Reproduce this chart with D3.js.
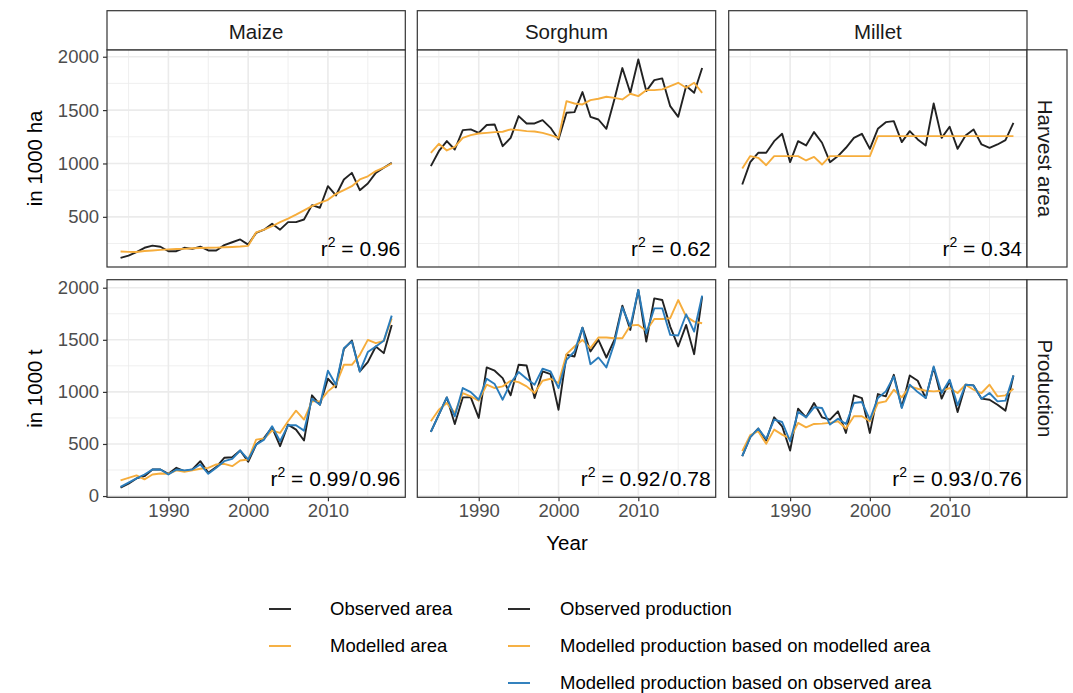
<!DOCTYPE html>
<html>
<head>
<meta charset="utf-8">
<script src="https://cdn.jsdelivr.net/npm/d3@7"></script>
<style>
  body { margin: 0; background: #fff; }
  svg { display: block; font-family: "Liberation Sans", Arial, sans-serif; }
</style>
</head>
<body>
<svg id="chart" width="1073" height="693"></svg>
<script>
const years = [1984, 1985, 1986, 1987, 1988, 1989, 1990, 1991, 1992, 1993, 1994, 1995,
  1996, 1997, 1998, 1999, 2000, 2001, 2002, 2003, 2004, 2005, 2006, 2007, 2008, 2009,
  2010, 2011, 2012, 2013, 2014, 2015, 2016, 2017, 2018];

const crops = ['Maize', 'Sorghum', 'Millet'];
const rowLabels = ['Harvest area', 'Production'];
const yTitles = ['in 1000 ha', 'in 1000 t'];
const xTicks = [1990, 2000, 2010];
const xMinor = [1985, 1995, 2005, 2015];
const yTicks = [0, 500, 1000, 1500, 2000];
const yMinor = [250, 750, 1250, 1750];

// harvest area (1000 ha)
const maizeAreaObs = [115, 137, 170, 210, 230, 220, 178, 178, 210, 200, 220, 185, 185, 235, 262, 288, 240,
  350, 380, 435, 380, 450, 450, 475, 610, 585, 787, 700, 850, 912, 750, 812, 912, 960, 1006];
const maizeAreaMod = [175, 172, 170, 180, 185, 190, 195, 198, 200, 205, 208, 210, 212, 215, 218, 222, 228,
  355, 380, 412, 450, 484, 520, 560, 600, 630, 660, 715, 750, 787, 850, 880, 928, 960, 1000];
const sorghumAreaObs = [975, 1115, 1210, 1131, 1312, 1319, 1287, 1360, 1365, 1162, 1240, 1444, 1375, 1375, 1406, 1334, 1225,
  1475, 1481, 1669, 1437, 1412, 1325, 1600, 1894, 1662, 1975, 1678, 1781, 1797, 1537, 1437, 1725, 1662, 1894];
const sorghumAreaMod = [1100, 1184, 1122, 1156, 1240, 1265, 1281, 1287, 1294, 1297, 1319, 1312, 1303, 1300, 1287, 1265, 1240,
  1584, 1562, 1553, 1594, 1606, 1625, 1615, 1600, 1653, 1631, 1687, 1687, 1694, 1725, 1756, 1709, 1756, 1662];
const milletAreaObs = [803, 1012, 1100, 1100, 1209, 1278, 1012, 1209, 1169, 1294, 1194, 1012, 1069, 1147, 1240, 1278, 1137,
  1325, 1387, 1397, 1200, 1303, 1225, 1169, 1562, 1240, 1344, 1137, 1262, 1319, 1178, 1147, 1178, 1219, 1381];
const milletAreaMod = [953, 1069, 1053, 984, 1069, 1069, 1069, 1069, 1028, 1062, 990, 1069, 1069, 1069, 1069, 1069, 1069,
  1256, 1256, 1256, 1256, 1256, 1256, 1256, 1256, 1256, 1256, 1256, 1256, 1256, 1256, 1256, 1256, 1256, 1256];

// production (1000 t)
const maizeProdObs = [80, 118, 169, 191, 255, 255, 214, 271, 239, 255, 335, 223, 278, 367, 373, 437, 329,
  494, 558, 660, 479, 686, 638, 533, 967, 877, 1126, 1043, 1413, 1493, 1196, 1286, 1436, 1372, 1643];
const maizeProdModArea = [150, 175, 198, 160, 207, 217, 214, 246, 233, 246, 262, 271, 303, 309, 287, 341, 351,
  542, 552, 628, 606, 718, 820, 734, 909, 909, 1005, 1069, 1260, 1260, 1356, 1499, 1468, 1490, 1705];
const maizeProdObsArea = [89, 128, 169, 207, 255, 255, 207, 255, 246, 255, 303, 214, 271, 335, 357, 437, 351,
  494, 542, 670, 526, 679, 679, 628, 935, 877, 1203, 1069, 1420, 1483, 1196, 1382, 1436, 1490, 1732];
const sorghumProdObs = [616, 782, 947, 692, 947, 947, 750, 1235, 1203, 1132, 967, 1260, 1254, 941, 1196, 1171, 829,
  1356, 1340, 1617, 1388, 1499, 1330, 1499, 1828, 1595, 1978, 1483, 1898, 1882, 1627, 1436, 1643, 1362, 1914];
const sorghumProdModArea = [718, 829, 893, 798, 989, 957, 916, 1069, 1037, 1053, 1107, 1094, 1053, 989, 1107, 1126, 1085,
  1362, 1436, 1499, 1420, 1522, 1522, 1515, 1515, 1637, 1643, 1586, 1700, 1700, 1707, 1882, 1723, 1675, 1659];
const sorghumProdObsArea = [616, 782, 947, 766, 1037, 998, 925, 1126, 1075, 925, 1085, 1190, 1126, 1069, 1222, 1196, 1037,
  1308, 1388, 1617, 1266, 1330, 1235, 1467, 1812, 1627, 1978, 1563, 1802, 1802, 1547, 1541, 1745, 1579, 1924];
const milletProdObs = [383, 565, 648, 533, 756, 670, 437, 839, 756, 893, 756, 734, 813, 606, 967, 941, 606,
  979, 957, 1164, 852, 1158, 1107, 941, 1235, 935, 1107, 807, 1069, 1062, 935, 925, 877, 820, 1158];
const milletProdModArea = [431, 584, 622, 501, 638, 590, 552, 702, 660, 692, 695, 702, 718, 648, 766, 766, 718,
  893, 909, 1021, 947, 1053, 1030, 1011, 1005, 1011, 1037, 989, 1069, 1021, 989, 1069, 957, 967, 1030];
const milletProdObsArea = [383, 565, 648, 549, 734, 711, 526, 807, 756, 852, 845, 686, 743, 692, 893, 903, 734,
  941, 1005, 1148, 845, 1069, 998, 941, 1244, 989, 1117, 871, 1069, 1062, 935, 989, 909, 916, 1158];

const areaR2 = ['0.96', '0.62', '0.34'];
const prodR2 = ['0.99/0.96', '0.92/0.78', '0.93/0.76'];

const legendLeft = ['Observed area', 'Modelled area'];
const legendRight = ['Observed production', 'Modelled production based on modelled area',
  'Modelled production based on observed area'];

const colBlack = '#222222';
const colOrange = '#f6ad3c';
const colBlue = '#2a7cbb';

const series = [
  [[maizeAreaObs, maizeAreaMod], [sorghumAreaObs, sorghumAreaMod], [milletAreaObs, milletAreaMod]],
  [[maizeProdObs, maizeProdModArea, maizeProdObsArea],
   [sorghumProdObs, sorghumProdModArea, sorghumProdObsArea],
   [milletProdObs, milletProdModArea, milletProdObsArea]]
];
const lineColors = [colBlack, colOrange, colBlue];

// layout
const cols = [[107, 405.3], [417.3, 715.7], [728.7, 1027]];
const rows = [[49.8, 267], [279.7, 497.3]];
const yDomains = [[30, 2065], [-12, 2077]];
const stripTop = 10.7;
const stripRight = 1067;

const svg = d3.select('#chart');

const xScales = cols.map(c => d3.scaleLinear().domain([1982.3, 2019.7]).range(c));
const yScales = rows.map((r, i) => d3.scaleLinear().domain(yDomains[i]).range([r[1], r[0]]));

rows.forEach((r, ri) => {
  const y = yScales[ri];
  cols.forEach((c, ci) => {
    const x = xScales[ci];
    const g = svg.append('g');

    g.append('rect').attr('x', c[0]).attr('y', r[0]).attr('width', c[1] - c[0]).attr('height', r[1] - r[0])
      .attr('fill', '#fff');

    // minor grid
    g.selectAll('.vminor').data(xMinor).enter().append('line')
      .attr('x1', d => x(d)).attr('x2', d => x(d)).attr('y1', r[0]).attr('y2', r[1])
      .attr('stroke', '#ebebeb').attr('stroke-width', 0.8);
    g.selectAll('.hminor').data(yMinor.filter(d => d > yDomains[ri][0] && d < yDomains[ri][1])).enter().append('line')
      .attr('x1', c[0]).attr('x2', c[1]).attr('y1', d => y(d)).attr('y2', d => y(d))
      .attr('stroke', '#ebebeb').attr('stroke-width', 0.8);
    // major grid
    g.selectAll('.vmajor').data(xTicks).enter().append('line')
      .attr('x1', d => x(d)).attr('x2', d => x(d)).attr('y1', r[0]).attr('y2', r[1])
      .attr('stroke', '#ebebeb').attr('stroke-width', 1.6);
    g.selectAll('.hmajor').data(yTicks.filter(d => d > yDomains[ri][0] && d < yDomains[ri][1])).enter().append('line')
      .attr('x1', c[0]).attr('x2', c[1]).attr('y1', d => y(d)).attr('y2', d => y(d))
      .attr('stroke', '#ebebeb').attr('stroke-width', 1.6);

    const line = d3.line().x((d, i) => x(years[i])).y(d => y(d));
    series[ri][ci].forEach((vals, si) => {
      g.append('path').datum(vals).attr('d', line)
        .attr('fill', 'none').attr('stroke', lineColors[si]).attr('stroke-width', 1.9)
        .attr('stroke-linejoin', 'round');
    });

    // r² label
    const lab = g.append('text').attr('x', c[1] - 5).attr('y', r[1] - 11)
      .attr('text-anchor', 'end').attr('font-size', 21).attr('fill', '#000');
    lab.append('tspan').text('r');
    lab.append('tspan').attr('font-size', 14).attr('dy', -9).text('2');
    const val = ri === 0 ? areaR2[ci] : prodR2[ci].replace('/', '\u200a/\u200a');
    lab.append('tspan').attr('dy', 9).text(' = ' + val);

    g.append('rect').attr('x', c[0]).attr('y', r[0]).attr('width', c[1] - c[0]).attr('height', r[1] - r[0])
      .attr('fill', 'none').attr('stroke', '#333').attr('stroke-width', 1.2);
  });
});

// top strips
cols.forEach((c, ci) => {
  svg.append('rect').attr('x', c[0]).attr('y', stripTop).attr('width', c[1] - c[0]).attr('height', rows[0][0] - stripTop)
    .attr('fill', '#fff').attr('stroke', '#333').attr('stroke-width', 1.2);
  svg.append('text').attr('x', (c[0] + c[1]) / 2).attr('y', 38.5).attr('text-anchor', 'middle')
    .attr('font-size', 20.5).attr('fill', '#1a1a1a').text(crops[ci]);
});

// right strips
rows.forEach((r, ri) => {
  const x0 = cols[2][1];
  svg.append('rect').attr('x', x0).attr('y', r[0]).attr('width', stripRight - x0).attr('height', r[1] - r[0])
    .attr('fill', '#fff').attr('stroke', '#333').attr('stroke-width', 1.2);
  const cy = (r[0] + r[1]) / 2;
  svg.append('text').attr('transform', `translate(1038,${cy}) rotate(90)`).attr('text-anchor', 'middle')
    .attr('font-size', 20.5).attr('fill', '#1a1a1a').text(rowLabels[ri]);
});

// y axes
rows.forEach((r, ri) => {
  const axis = d3.axisLeft(yScales[ri]).tickValues(yTicks.filter(d => d > yDomains[ri][0] && d < yDomains[ri][1]))
    .tickSize(4).tickPadding(4).tickFormat(d3.format('d'));
  const ag = svg.append('g').attr('transform', `translate(${cols[0][0]},0)`).call(axis);
  ag.select('.domain').remove();
  ag.selectAll('line').attr('stroke', '#333').attr('stroke-width', 1.2);
  ag.selectAll('text').attr('font-size', 18.5).attr('fill', '#4d4d4d')
    .attr('font-family', '"Liberation Sans", Arial, sans-serif');
  svg.append('text').attr('transform', `translate(42,${(r[0] + r[1]) / 2}) rotate(-90)`)
    .attr('text-anchor', 'middle').attr('font-size', 20.5).attr('fill', '#000').text(yTitles[ri]);
});

// x axes
cols.forEach((c, ci) => {
  const axis = d3.axisBottom(xScales[ci]).tickValues(xTicks).tickSize(4).tickPadding(3).tickFormat(d3.format('d'));
  const ag = svg.append('g').attr('transform', `translate(0,${rows[1][1]})`).call(axis);
  ag.select('.domain').remove();
  ag.selectAll('line').attr('stroke', '#333').attr('stroke-width', 1.2);
  ag.selectAll('text').attr('font-size', 18.5).attr('fill', '#4d4d4d')
    .attr('font-family', '"Liberation Sans", Arial, sans-serif');
});
svg.append('text').attr('x', (cols[0][0] + cols[2][1]) / 2).attr('y', 550).attr('text-anchor', 'middle')
  .attr('font-size', 20.5).attr('fill', '#000').text('Year');

// legend
const legRows = [609, 646, 683];
const legend = svg.append('g');
legendLeft.forEach((t, i) => {
  legend.append('line').attr('x1', 269).attr('x2', 291).attr('y1', legRows[i]).attr('y2', legRows[i])
    .attr('stroke', [colBlack, colOrange][i]).attr('stroke-width', 1.9);
  legend.append('text').attr('x', 330).attr('y', legRows[i]).attr('dy', '0.35em')
    .attr('font-size', 18.5).attr('fill', '#000').text(t);
});
legendRight.forEach((t, i) => {
  legend.append('line').attr('x1', 508).attr('x2', 530).attr('y1', legRows[i]).attr('y2', legRows[i])
    .attr('stroke', lineColors[i]).attr('stroke-width', 1.9);
  legend.append('text').attr('x', 560).attr('y', legRows[i]).attr('dy', '0.35em')
    .attr('font-size', 18.5).attr('fill', '#000').text(t);
});
</script>
</body>
</html>
